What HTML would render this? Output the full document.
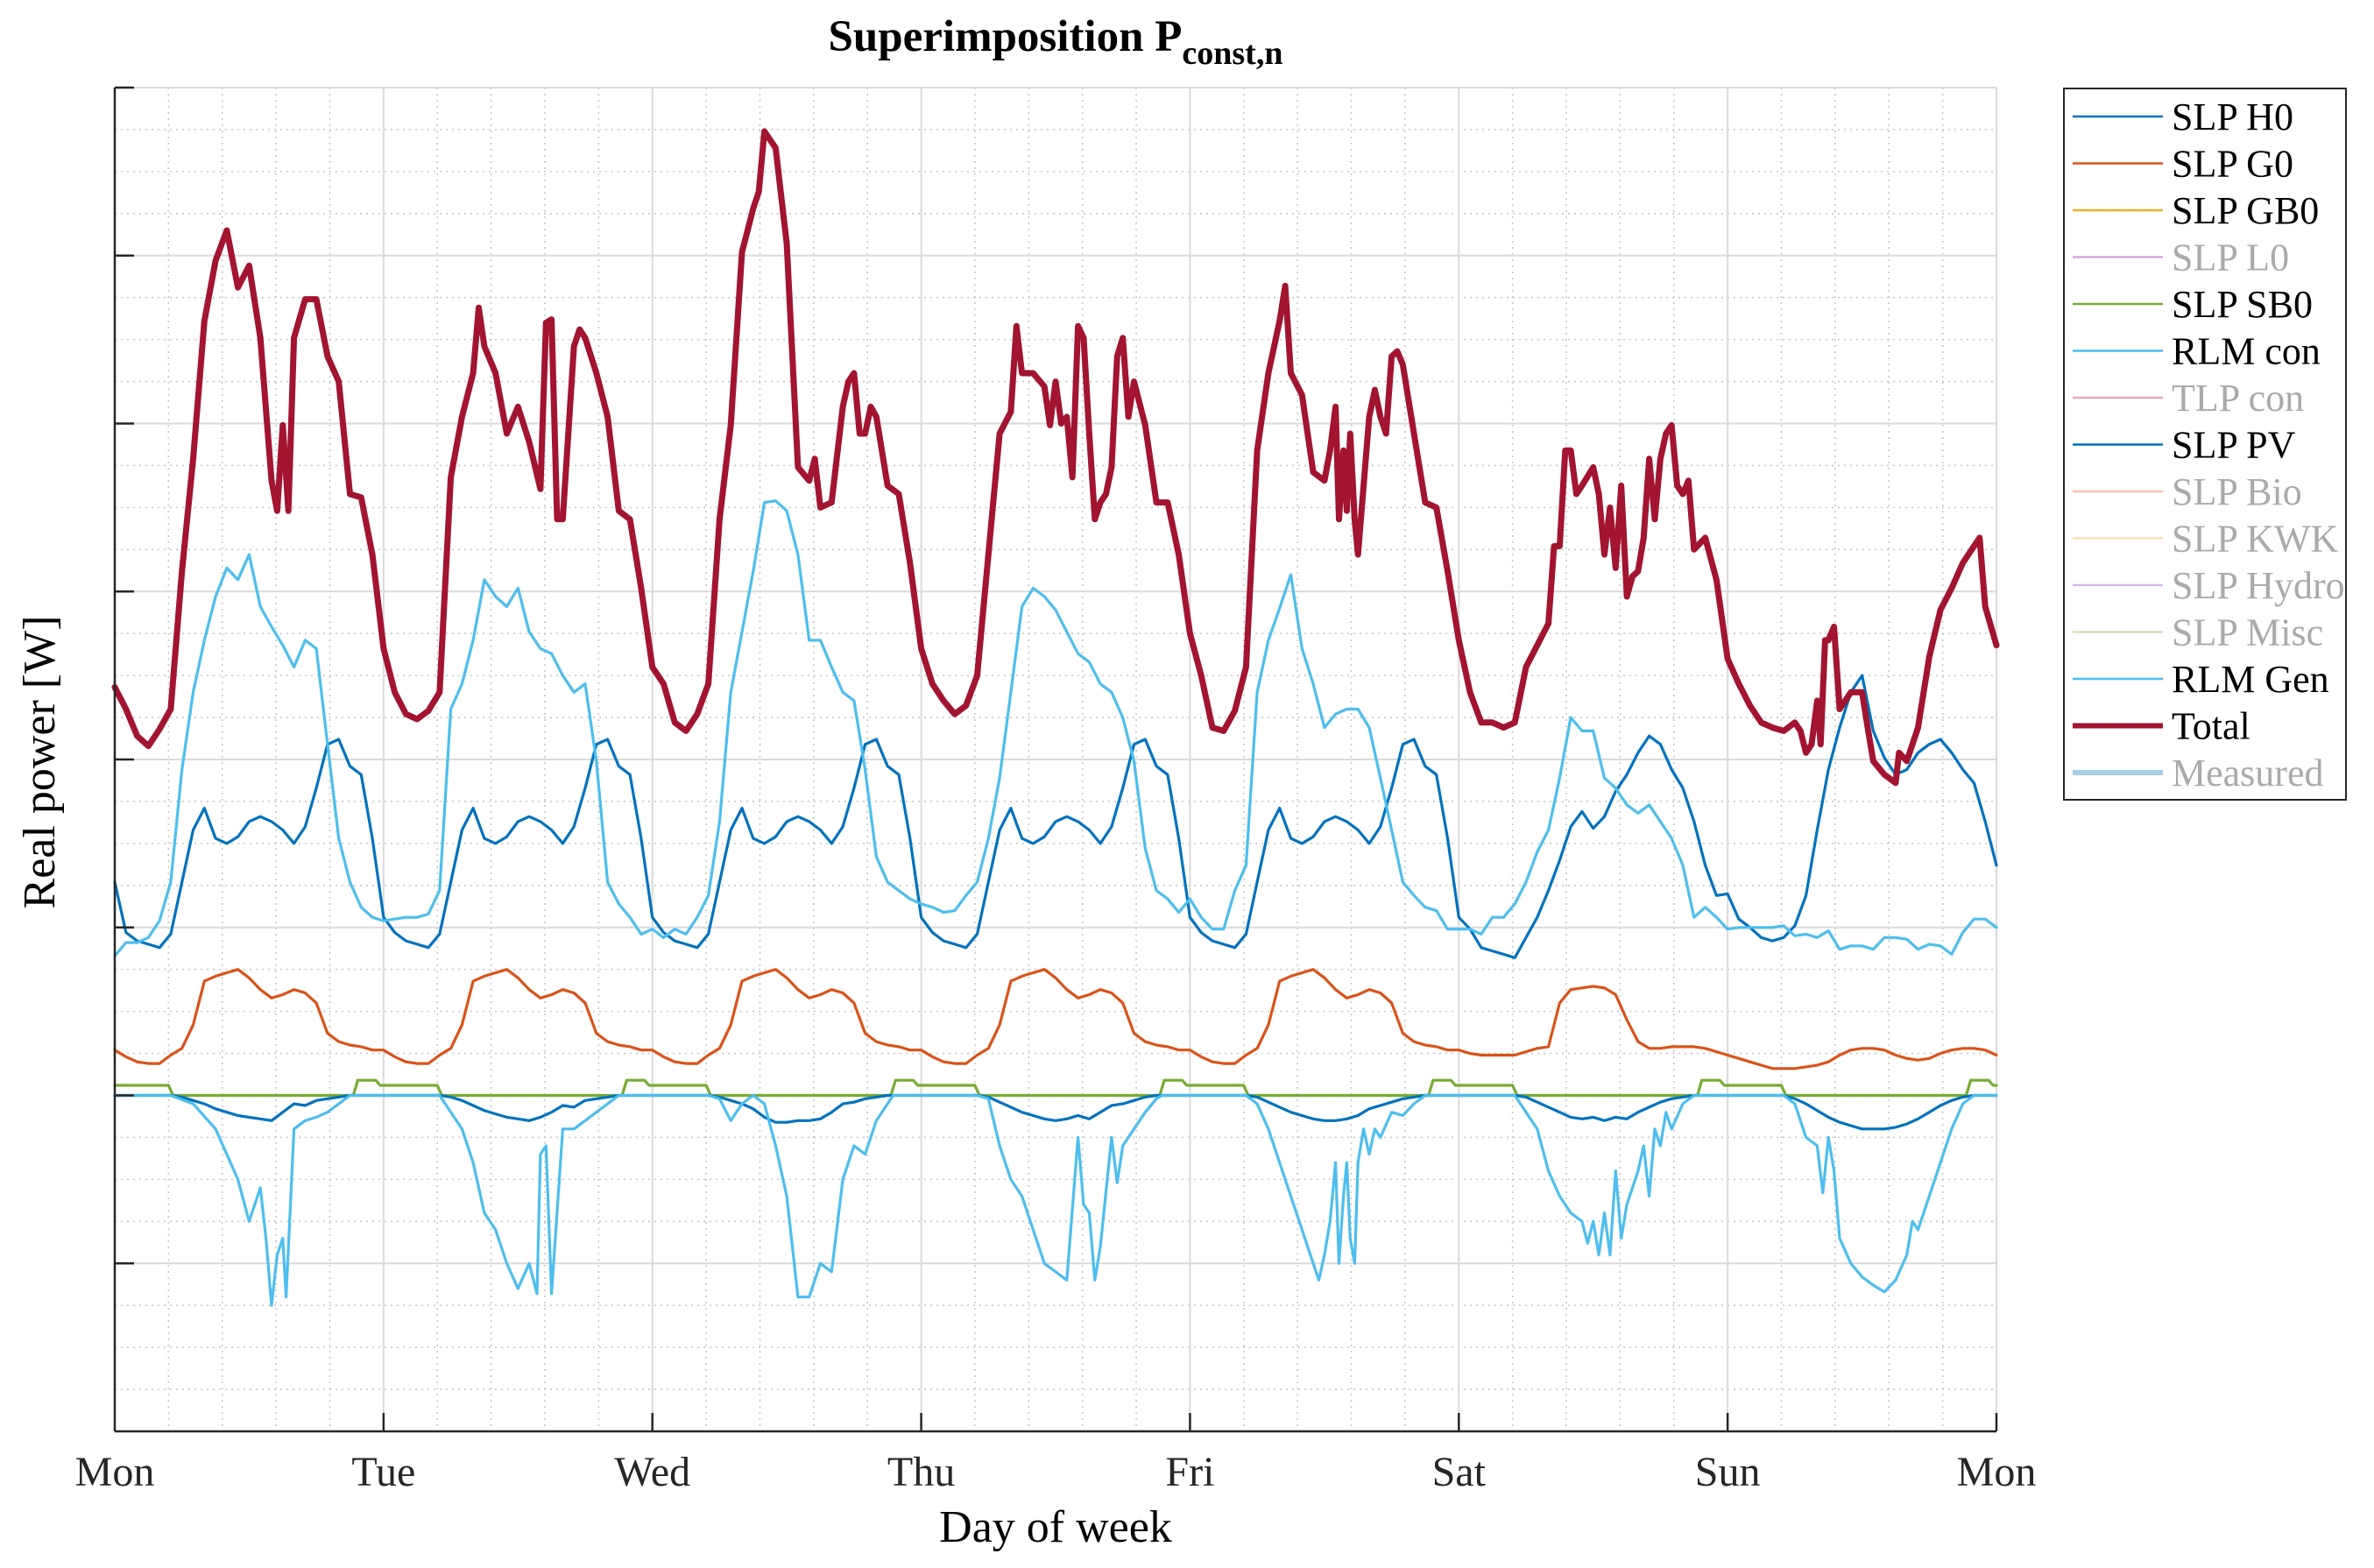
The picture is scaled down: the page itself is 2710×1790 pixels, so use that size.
<!DOCTYPE html>
<html><head><meta charset="utf-8"><style>
html,body{margin:0;padding:0;background:#fff}
svg{display:block}
text{font-family:"Liberation Serif",serif}
</style></head><body>
<svg id="chart" width="2710" height="1790" viewBox="0 0 2710 1790" xmlns="http://www.w3.org/2000/svg">
<rect width="2710" height="1790" fill="#fff"/>
<g id="grid"></g>
<g id="series"></g>
<g id="axes"></g>
<text x="1205" y="58" text-anchor="middle" font-size="51" font-weight="bold">Superimposition P<tspan font-size="38" dy="15">const,n</tspan></text>
<text x="1205" y="1760" text-anchor="middle" font-size="52">Day of week</text>
<text transform="translate(62,870) rotate(-90)" text-anchor="middle" font-size="52">Real power [W]</text>
<g id="legend"></g>
</svg>
<script>
const dayLabels = ["Mon","Tue","Wed","Thu","Fri","Sat","Sun","Mon"];
const h0Vals = [
1.27,0.97,0.92,0.90,0.88,0.96,1.27,1.58,1.71,1.53,1.50,1.54,1.63,1.66,1.63,1.58,1.50,1.60,1.83,2.09,2.12,1.96,1.91,1.53,
1.06,0.97,0.92,0.90,0.88,0.96,1.27,1.58,1.71,1.53,1.50,1.54,1.63,1.66,1.63,1.58,1.50,1.60,1.83,2.09,2.12,1.96,1.91,1.53,
1.06,0.97,0.92,0.90,0.88,0.96,1.27,1.58,1.71,1.53,1.50,1.54,1.63,1.66,1.63,1.58,1.50,1.60,1.83,2.09,2.12,1.96,1.91,1.53,
1.06,0.97,0.92,0.90,0.88,0.96,1.27,1.58,1.71,1.53,1.50,1.54,1.63,1.66,1.63,1.58,1.50,1.60,1.83,2.09,2.12,1.96,1.91,1.53,
1.06,0.97,0.92,0.90,0.88,0.96,1.27,1.58,1.71,1.53,1.50,1.54,1.63,1.66,1.63,1.58,1.50,1.60,1.83,2.09,2.12,1.96,1.91,1.53,
1.06,0.99,0.88,0.86,0.84,0.82,0.94,1.06,1.22,1.40,1.60,1.69,1.59,1.66,1.81,1.91,2.04,2.14,2.09,1.94,1.83,1.63,1.37,1.19,
1.20,1.05,1.00,0.94,0.92,0.94,1.01,1.19,1.58,1.94,2.19,2.40,2.50,2.17,2.01,1.91,1.94,2.04,2.09,2.12,2.04,1.94,1.86,1.63,
1.37];
const g0Vals = [
0.27,0.23,0.20,0.19,0.19,0.24,0.28,0.42,0.68,0.71,0.73,0.75,0.70,0.63,0.58,0.60,0.63,0.61,0.55,0.37,0.32,0.30,0.29,0.27,
0.27,0.23,0.20,0.19,0.19,0.24,0.28,0.42,0.68,0.71,0.73,0.75,0.70,0.63,0.58,0.60,0.63,0.61,0.55,0.37,0.32,0.30,0.29,0.27,
0.27,0.23,0.20,0.19,0.19,0.24,0.28,0.42,0.68,0.71,0.73,0.75,0.70,0.63,0.58,0.60,0.63,0.61,0.55,0.37,0.32,0.30,0.29,0.27,
0.27,0.23,0.20,0.19,0.19,0.24,0.28,0.42,0.68,0.71,0.73,0.75,0.70,0.63,0.58,0.60,0.63,0.61,0.55,0.37,0.32,0.30,0.29,0.27,
0.27,0.23,0.20,0.19,0.19,0.24,0.28,0.42,0.68,0.71,0.73,0.75,0.70,0.63,0.58,0.60,0.63,0.61,0.55,0.37,0.32,0.30,0.29,0.27,
0.27,0.25,0.24,0.24,0.24,0.24,0.26,0.28,0.29,0.55,0.63,0.64,0.65,0.64,0.60,0.45,0.32,0.28,0.28,0.29,0.29,0.29,0.28,0.26,
0.24,0.22,0.20,0.18,0.16,0.16,0.16,0.17,0.18,0.20,0.24,0.27,0.28,0.28,0.27,0.24,0.22,0.21,0.22,0.25,0.27,0.28,0.28,0.27,
0.24];
const rlmConVals = [
0.83,0.91,0.91,0.94,1.04,1.27,1.94,2.40,2.71,2.97,3.14,3.07,3.22,2.91,2.79,2.68,2.55,2.71,2.66,2.09,1.53,1.27,1.12,1.06,
1.04,1.05,1.06,1.06,1.08,1.22,2.30,2.45,2.71,3.07,2.97,2.91,3.02,2.76,2.66,2.63,2.50,2.40,2.45,1.99,1.27,1.14,1.06,0.96,
0.99,0.94,0.99,0.96,1.06,1.19,1.63,2.40,2.76,3.12,3.53,3.54,3.48,3.22,2.71,2.71,2.55,2.40,2.35,1.94,1.42,1.27,1.22,1.17,
1.14,1.12,1.09,1.10,1.19,1.27,1.53,1.89,2.40,2.91,3.02,2.97,2.89,2.76,2.63,2.58,2.45,2.40,2.25,1.99,1.47,1.22,1.17,1.09,
1.17,1.06,0.99,0.99,1.22,1.37,2.40,2.71,2.90,3.10,2.66,2.45,2.19,2.27,2.30,2.30,2.19,1.89,1.58,1.27,1.19,1.12,1.10,0.99,
0.99,0.99,0.96,1.06,1.06,1.14,1.27,1.45,1.58,1.89,2.25,2.17,2.17,1.89,1.83,1.73,1.68,1.73,1.63,1.53,1.37,1.06,1.12,1.06,
0.99,1.00,1.00,1.00,1.00,1.01,0.95,0.96,0.94,0.98,0.87,0.89,0.89,0.87,0.94,0.94,0.93,0.87,0.90,0.89,0.84,0.97,1.05,1.05,
1.00];
const pvVals = [
0,0,0,0,0,0,-0.01,-0.03,-0.05,-0.08,-0.10,-0.12,-0.13,-0.14,-0.15,-0.10,-0.05,-0.06,-0.03,-0.02,-0.01,0,0,0,
0,0,0,0,0,0,-0.01,-0.03,-0.06,-0.09,-0.11,-0.13,-0.14,-0.15,-0.13,-0.10,-0.06,-0.07,-0.03,-0.02,-0.01,0,0,0,
0,0,0,0,0,0,-0.01,-0.03,-0.05,-0.08,-0.13,-0.16,-0.16,-0.15,-0.15,-0.14,-0.10,-0.05,-0.04,-0.02,-0.01,0,0,0,
0,0,0,0,0,0,-0.01,-0.04,-0.07,-0.10,-0.12,-0.14,-0.15,-0.14,-0.12,-0.14,-0.10,-0.06,-0.05,-0.03,-0.01,0,0,0,
0,0,0,0,0,0,-0.01,-0.04,-0.07,-0.10,-0.12,-0.14,-0.15,-0.15,-0.14,-0.12,-0.08,-0.06,-0.04,-0.02,-0.01,0,0,0,
0,0,0,0,0,0,-0.01,-0.04,-0.07,-0.10,-0.13,-0.14,-0.13,-0.15,-0.13,-0.14,-0.10,-0.07,-0.04,-0.02,-0.01,0,0,0,
0,0,0,0,0,0,-0.02,-0.05,-0.09,-0.13,-0.16,-0.18,-0.20,-0.20,-0.20,-0.19,-0.17,-0.14,-0.10,-0.06,-0.03,-0.01,0,0,
0];
const sbT = [0,4.8,5.2,21.3,21.7,23.3,23.7,28.8,29.2,45.3,45.7,47.3,47.7,52.8,53.2,69.3,69.7,71.3,71.7,76.8,77.2,93.3,93.7,95.3,95.7,100.8,101.2,117.3,117.7,119.3,119.7,124.8,125.2,141.3,141.7,143.3,143.7,148.8,149.2,165.3,165.7,167.3,167.7,168];
const sbV = [0.06,0.06,0,0,0.09,0.09,0.06,0.06,0,0,0.09,0.09,0.06,0.06,0,0,0.09,0.09,0.06,0.06,0,0,0.09,0.09,0.06,0.06,0,0,0.09,0.09,0.06,0.06,0,0,0.09,0.09,0.06,0.06,0,0,0.09,0.09,0.06,0.06];
const genT = [0,5,7,9,10,11,12,13,13.5,14,14.5,15,15.3,16,17,18,19,20,21,
29,31,32,33,34,35,36,37,37.7,38,38.5,39,40,41,42,44,45,
53,54,55,56,57,58,59,60,61,62,63,64,65,66,67,68,69,69.5,
77,78,79,80,81,82,83,84,85,86,86.5,87,87.5,88,89,89.5,90,91,92,93,93.5,
101,102,103,104,105,106,107,107.5,108,108.5,109,109.3,109.7,110,110.3,110.7,111,111.5,112,112.5,113,114,115,116,117,
125,126,127,128,129,130,131,131.5,132,132.5,133,133.5,134,134.5,135,135.5,136,136.5,137,137.5,138,138.5,139,140,141,
149,150,151,152,152.5,153,153.5,154,155,156,157,158,159,160,160.5,161,162,163,164,165,166,168];
const genV = [0,0,-0.05,-0.2,-0.35,-0.5,-0.75,-0.55,-0.85,-1.25,-0.95,-0.85,-1.2,-0.2,-0.15,-0.13,-0.1,-0.05,0,
0,-0.2,-0.4,-0.7,-0.8,-1.0,-1.15,-1.0,-1.18,-0.35,-0.3,-1.18,-0.2,-0.2,-0.15,-0.05,0,
0,-0.02,-0.15,-0.05,0,-0.05,-0.3,-0.6,-1.2,-1.2,-1.0,-1.05,-0.5,-0.3,-0.35,-0.15,-0.05,0,
0,-0.02,-0.3,-0.5,-0.6,-0.8,-1.0,-1.05,-1.1,-0.25,-0.65,-0.7,-1.1,-0.9,-0.25,-0.52,-0.3,-0.2,-0.1,-0.02,0,
0,-0.05,-0.2,-0.4,-0.6,-0.8,-1.0,-1.1,-0.95,-0.75,-0.4,-1.0,-0.6,-0.4,-0.85,-1.0,-0.4,-0.2,-0.35,-0.2,-0.25,-0.1,-0.12,-0.05,0,
0,-0.1,-0.2,-0.45,-0.6,-0.7,-0.75,-0.88,-0.75,-0.95,-0.7,-0.95,-0.45,-0.85,-0.65,-0.55,-0.45,-0.3,-0.6,-0.2,-0.3,-0.1,-0.2,-0.05,0,
0,-0.05,-0.25,-0.3,-0.58,-0.25,-0.45,-0.85,-1.0,-1.08,-1.13,-1.17,-1.1,-0.95,-0.75,-0.8,-0.6,-0.4,-0.2,-0.05,0,0];
const totalT = [0,1,2,3,4,5,6,7,8,9,10,11,12,13,14,14.5,15,15.5,16,17,18,19,20,21,22,23,
24,25,26,27,28,29,30,31,32,32.5,33,34,35,36,37,38,38.5,39,39.5,40,41,41.5,42,43,44,45,46,47,
48,49,50,51,52,53,54,55,56,57,57.5,58,59,60,61,62,62.5,63,64,65,65.5,66,66.5,67,67.5,68,69,70,71,
72,73,74,75,76,77,78,79,80,80.5,81,82,83,83.5,84,84.5,85,85.5,86,86.5,87,87.5,88,88.5,89,89.5,90,90.5,91,92,93,94,95,
96,97,98,99,100,101,102,103,104,104.5,105,106,107,108,108.5,109,109.3,109.7,110,110.3,110.7,111,112,112.5,113,113.5,114,114.5,115,116,117,118,119,
120,121,122,123,124,125,126,127,128,128.5,129,129.5,130,130.5,131,132,132.5,133,133.5,134,134.5,135,135.5,136,136.5,137,137.5,138,138.5,139,139.5,140,140.5,141,142,143,
144,145,146,147,148,149,150,150.5,151,151.5,152,152.3,152.7,153,153.5,154,155,156,156.5,157,158,159,159.3,160,161,162,163,164,165,165.5,166,166.5,167,168];
const totalV = [2.43,2.30,2.14,2.08,2.18,2.30,3.12,3.79,4.61,4.97,5.15,4.81,4.94,4.51,3.66,3.48,3.99,3.48,4.51,4.74,4.74,4.40,4.25,3.58,3.56,3.22,
2.66,2.40,2.27,2.24,2.29,2.40,3.68,4.04,4.30,4.69,4.46,4.30,3.94,4.10,3.89,3.61,4.60,4.62,3.43,3.43,4.46,4.56,4.51,4.30,4.04,3.48,3.43,3.02,
2.55,2.45,2.22,2.17,2.27,2.45,3.43,3.99,5.02,5.28,5.38,5.74,5.64,5.07,3.74,3.66,3.79,3.50,3.53,4.10,4.25,4.30,3.94,3.94,4.10,4.04,3.63,3.58,3.17,
2.66,2.45,2.35,2.27,2.32,2.50,3.22,3.94,4.07,4.58,4.30,4.30,4.22,3.99,4.25,4.00,4.04,3.68,4.58,4.51,3.94,3.43,3.53,3.58,3.74,4.40,4.51,4.04,4.25,3.99,3.53,3.53,3.22,
2.75,2.50,2.19,2.17,2.29,2.55,3.84,4.30,4.61,4.82,4.30,4.17,3.71,3.66,3.84,4.10,3.43,3.84,3.48,3.94,3.43,3.22,4.04,4.20,4.04,3.94,4.40,4.43,4.35,3.94,3.53,3.50,3.12,
2.71,2.40,2.22,2.22,2.19,2.22,2.55,2.68,2.81,3.27,3.27,3.84,3.84,3.58,3.63,3.74,3.58,3.22,3.50,3.14,3.63,2.97,3.09,3.12,3.32,3.79,3.43,3.79,3.94,3.99,3.63,3.58,3.66,3.25,3.32,3.07,
2.60,2.45,2.32,2.22,2.19,2.17,2.22,2.17,2.04,2.09,2.35,2.09,2.71,2.71,2.79,2.30,2.40,2.40,2.19,1.99,1.91,1.86,2.04,1.99,2.19,2.61,2.89,3.02,3.17,3.22,3.27,3.32,2.91,2.68];

const NS = "http://www.w3.org/2000/svg";
const L = 131, R = 2279, T = 100, B = 1634, yMin = -2, yMax = 6, hMax = 168;
function xs(h){ return L + h / hMax * (R - L); }
function ys(v){ return B - (v - yMin) / (yMax - yMin) * (B - T); }
function mk(tag, attrs, parent){ const e = document.createElementNS(NS, tag); for (const k in attrs) e.setAttribute(k, attrs[k]); parent.appendChild(e); return e; }

const grid = document.getElementById('grid');
for (let d = 0; d < 7; d++) for (let m = 1; m < 5; m++) {
  const x = xs(d * 24 + m * 4.8);
  const ln = mk('line', {x1:x, x2:x, y1:T, y2:B, stroke:'#c8c8c8', 'stroke-width':1.6, 'stroke-dasharray':'2 5'}, grid);
  
  
}
for (let v = yMin; v < yMax; v++) for (let m = 1; m < 4; m++) {
  const y = ys(v + m / 4);
  const ln = mk('line', {x1:L, x2:R, y1:y, y2:y, stroke:'#c8c8c8', 'stroke-width':1.6, 'stroke-dasharray':'2 5'}, grid);
  
  
}
for (let d = 1; d <= 7; d++) {
  const x = xs(d * 24);
  const ln = mk('line', {x1:x, x2:x, y1:T, y2:B, stroke:'#dadada', 'stroke-width':2}, grid);
  
  
}
for (let v = yMin + 1; v <= yMax; v++) {
  const y = ys(v);
  const ln = mk('line', {x1:L, x2:R, y1:y, y2:y, stroke:'#dadada', 'stroke-width':2}, grid);
  
  
}

const series = document.getElementById('series');
function hourly(vals){ return vals.map((v, i) => xs(i).toFixed(1) + ',' + ys(v).toFixed(1)).join(' '); }
function paired(t, v){ return t.map((h, i) => xs(h).toFixed(1) + ',' + ys(v[i]).toFixed(1)).join(' '); }
function line(pts, color, w, name){
  const p = mk('polyline', {points:pts, fill:'none', stroke:color, 'stroke-width':w, 'stroke-linejoin':'round', 'stroke-linecap':'round'}, series);
  
  
}
line(hourly(h0Vals), '#0072BD', 3.2, 'series-slp-h0');
line(hourly(g0Vals), '#D95319', 3.2, 'series-slp-g0');
line(paired(sbT, sbV), '#77AC30', 3.2, 'series-slp-sb0');
line(hourly(rlmConVals), '#4DBEEE', 3.2, 'series-rlm-con');
line(hourly(pvVals), '#0072BD', 3.2, 'series-slp-pv');
line(paired(genT, genV), '#4DBEEE', 3.2, 'series-rlm-gen');
line(paired(totalT, totalV), '#A2142F', 7, 'series-total');

const axes = document.getElementById('axes');
let e = mk('line', {x1:L, x2:L, y1:T, y2:B, stroke:'#262626', 'stroke-width':2.5}, axes);
 
e = mk('line', {x1:L, x2:R, y1:B, y2:B, stroke:'#262626', 'stroke-width':2.5}, axes);
 
for (let v = yMin + 1; v <= yMax; v++) {
  const t = mk('line', {x1:L, x2:L + 22, y1:ys(v), y2:ys(v), stroke:'#262626', 'stroke-width':2.5}, axes);
  
  
}
dayLabels.forEach((lab, i) => {
  const x = xs(i * 24);
  if (i > 0) {
    const t = mk('line', {x1:x, x2:x, y1:B, y2:B - 21, stroke:'#262626', 'stroke-width':2.5}, axes);
    
    
  }
  const tx = mk('text', {x:x, y:1696, 'text-anchor':'middle', 'font-size':48, fill:'#262626'}, axes);
  tx.textContent = lab;
  
  
});

const legNames = ["SLP H0","SLP G0","SLP GB0","SLP L0","SLP SB0","RLM con","TLP con","SLP PV","SLP Bio","SLP KWK","SLP Hydro","SLP Misc","RLM Gen","Total","Measured"];
const legColors = ["#0072BD","#D95319","#EDB120","#D2A8DC","#77AC30","#4DBEEE","#E8A9B8","#0072BD","#F7C4AE","#FAE3B0","#D8B8E4","#CDE4B8","#4DBEEE","#A2142F","#A9CFEA"];
const legActive = [1,1,1,0,1,1,0,1,0,0,0,0,1,1,0];
const legWidths = [2.5,2.5,2.5,2.5,2.5,2.5,2.5,2.5,2.5,2.5,2.5,2.5,2.5,6,6];
const leg = document.getElementById('legend');
e = mk('rect', {x:2356, y:101, width:322, height:812, fill:'#fff', stroke:'#262626', 'stroke-width':2}, leg);
 
legNames.forEach((n, i) => {
  const y = 133 + i * 53.5;
  const g = mk('g', {}, leg);
  
  
  mk('line', {x1:2366, x2:2469, y1:y, y2:y, stroke:legColors[i], 'stroke-width':legWidths[i]}, g);
  const t = mk('text', {x:2479, y:y + 15, 'font-size':44, fill: legActive[i] ? '#000' : '#aaaaaa'}, g);
  t.textContent = n;
});
</script>
</body></html>
